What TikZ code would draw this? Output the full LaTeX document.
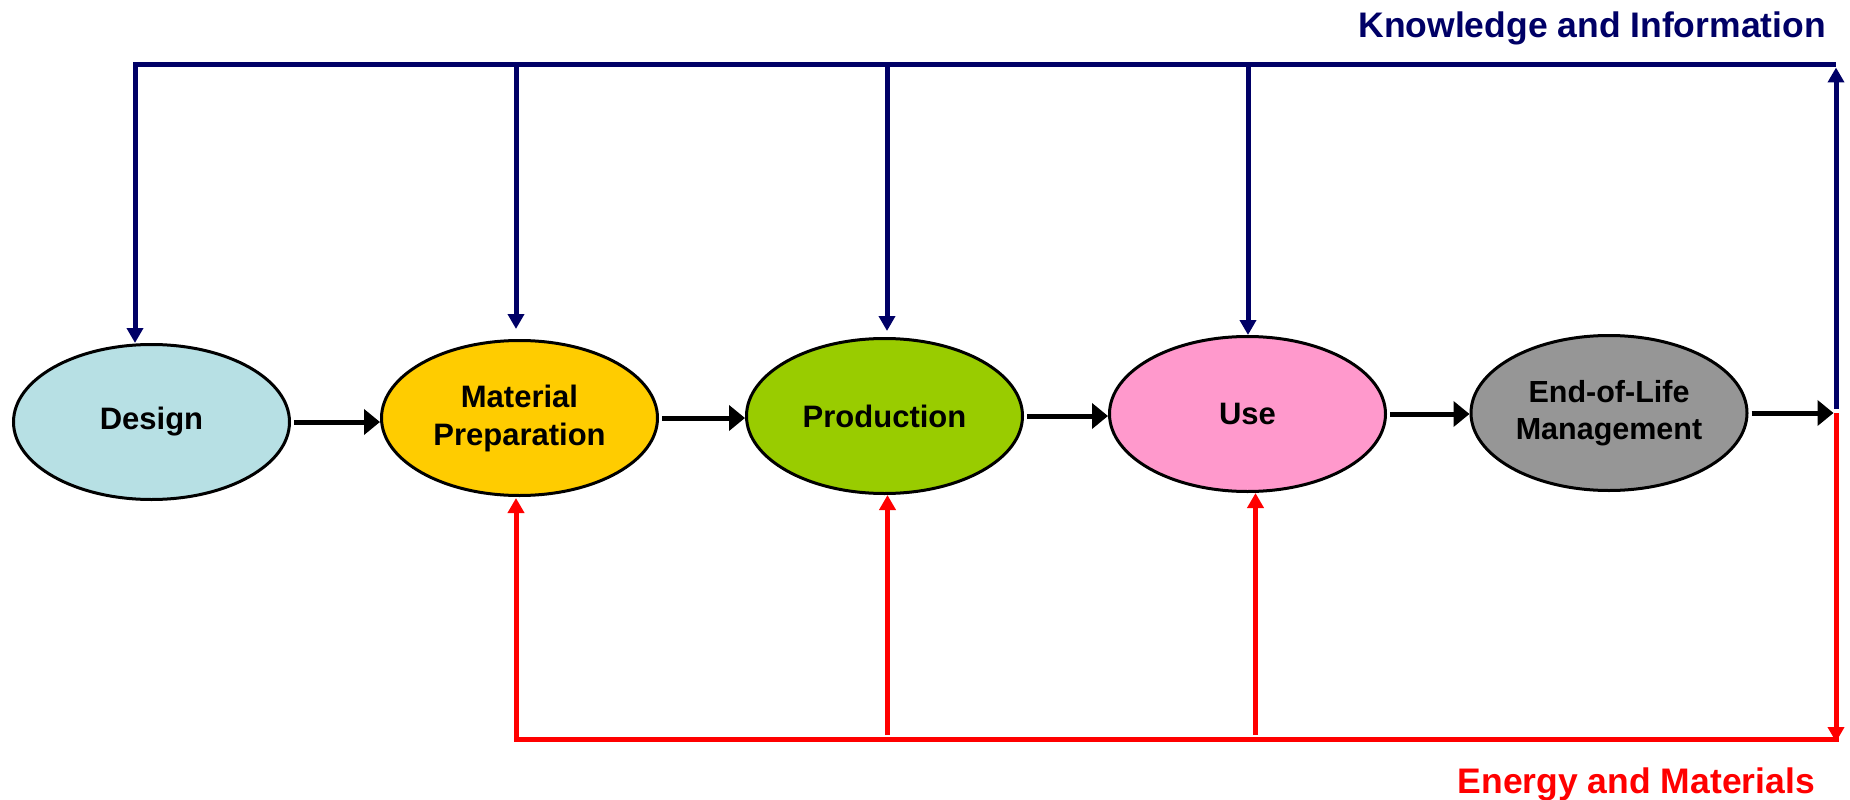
\documentclass[tikz,border=0pt]{standalone}
\usepackage{fontspec}
\setmainfont{Liberation Sans}
\usetikzlibrary{shapes.geometric,arrows.meta}
\definecolor{navyk}{RGB}{0,0,102}
\definecolor{redk}{RGB}{255,0,0}
\definecolor{fdesign}{RGB}{183,224,228}
\definecolor{fmat}{RGB}{255,204,0}
\definecolor{fprod}{RGB}{153,204,0}
\definecolor{fuse}{RGB}{255,153,204}
\definecolor{feol}{RGB}{150,150,150}
\tikzset{
  stage/.style={ellipse, draw=black, line width=3pt, inner sep=0pt,
    minimum width=276pt, minimum height=155pt, align=center,
    font=\fontsize{31}{38}\selectfont\bfseries},
  flowarrow/.style={draw=black, line width=5pt, -{Triangle[length=16pt,width=25pt]}},
  knowline/.style={draw=navyk, line width=5pt},
  knowarrow/.style={knowline, -{Triangle[length=15pt,width=16pt]}},
  enline/.style={draw=redk, line width=5pt},
  enarrow/.style={enline, -{Triangle[length=15pt,width=16pt]}},
  biglabel/.style={font=\fontsize{35.5}{40}\selectfont\bfseries, inner sep=0pt, anchor=base east}
}
\begin{document}
\begin{tikzpicture}[x=1pt,y=-1pt]
\useasboundingbox (0,0) rectangle (1850,800);
\fill[white] (0,0) rectangle (1850,800);

\node[stage, fill=fdesign] (design) at (151.5,422) {Design};
\node[stage, fill=fmat] (mat) at (519.5,418) {Material\\Preparation};
\node[stage, fill=fprod] (prod) at (884.5,416) {Production};
\node[stage, fill=fuse] (use) at (1247.5,414) {Use};
\node[stage, fill=feol, font=\fontsize{30.5}{37}\selectfont\bfseries] (eol) at (1609,413) {End-of-Life\\Management};

\coordinate (jr) at (1836,412);
\coordinate (ktl) at (135,65);
\coordinate (ktr) at (1836,65);
\coordinate (kmat) at (516,65);
\coordinate (kprod) at (887,65);
\coordinate (kuse) at (1248,65);
\coordinate (ebl) at (516,739.5);
\coordinate (ebr) at (1836,739.5);
\coordinate (eprod) at (887.5,735);
\coordinate (euse) at (1255.5,735);

% main flow
\draw[flowarrow] ([xshift=3pt]design.east) -- (design.east -| mat.west);
\draw[flowarrow] ([xshift=3pt]mat.east) -- (mat.east -| prod.west);
\draw[flowarrow] ([xshift=3pt]prod.east) -- (prod.east -| use.west);
\draw[flowarrow] ([xshift=3pt]use.east) -- (use.east -| eol.west);
\draw[flowarrow] ([xshift=3pt]eol.east) -- ([xshift=-2.5pt]eol.east -| jr);

% knowledge loop (yshift is in page units: positive = upwards)
\draw[knowarrow] ([yshift=3pt]jr) -- ([yshift=-2.5pt]ktr);
\draw[knowline, line cap=rect] ([xshift=-2.5pt]ktr) -- (ktl);
\draw[knowarrow] (ktl) -- (ktl |- design.north);
\draw[knowarrow] (kmat) -- ([yshift=10pt]kmat |- mat.north);
\draw[knowarrow] (kprod) -- ([yshift=6pt]kprod |- prod.north);
\draw[knowarrow] (kuse) -- (kuse |- use.north);

% energy loop
\draw[enline] ([yshift=-1pt]jr) -- ([yshift=10pt]ebr);
\draw[enarrow] ([yshift=12pt]ebr) -- ([yshift=-2.5pt]ebr);
\draw[enline, line cap=rect] (ebr) -- (ebl);
\draw[enarrow] (ebl) -- ([yshift=-1pt]ebl |- mat.south);
\draw[enarrow] (eprod) -- (eprod |- prod.south);
\draw[enarrow] (euse) -- (euse |- use.south);

\node[biglabel, text=navyk] (klabel) at (1826,38) {Knowledge and Information};
\node[biglabel, text=redk] (elabel) at (1815,793) {Energy and Materials};
\end{tikzpicture}
\end{document}
